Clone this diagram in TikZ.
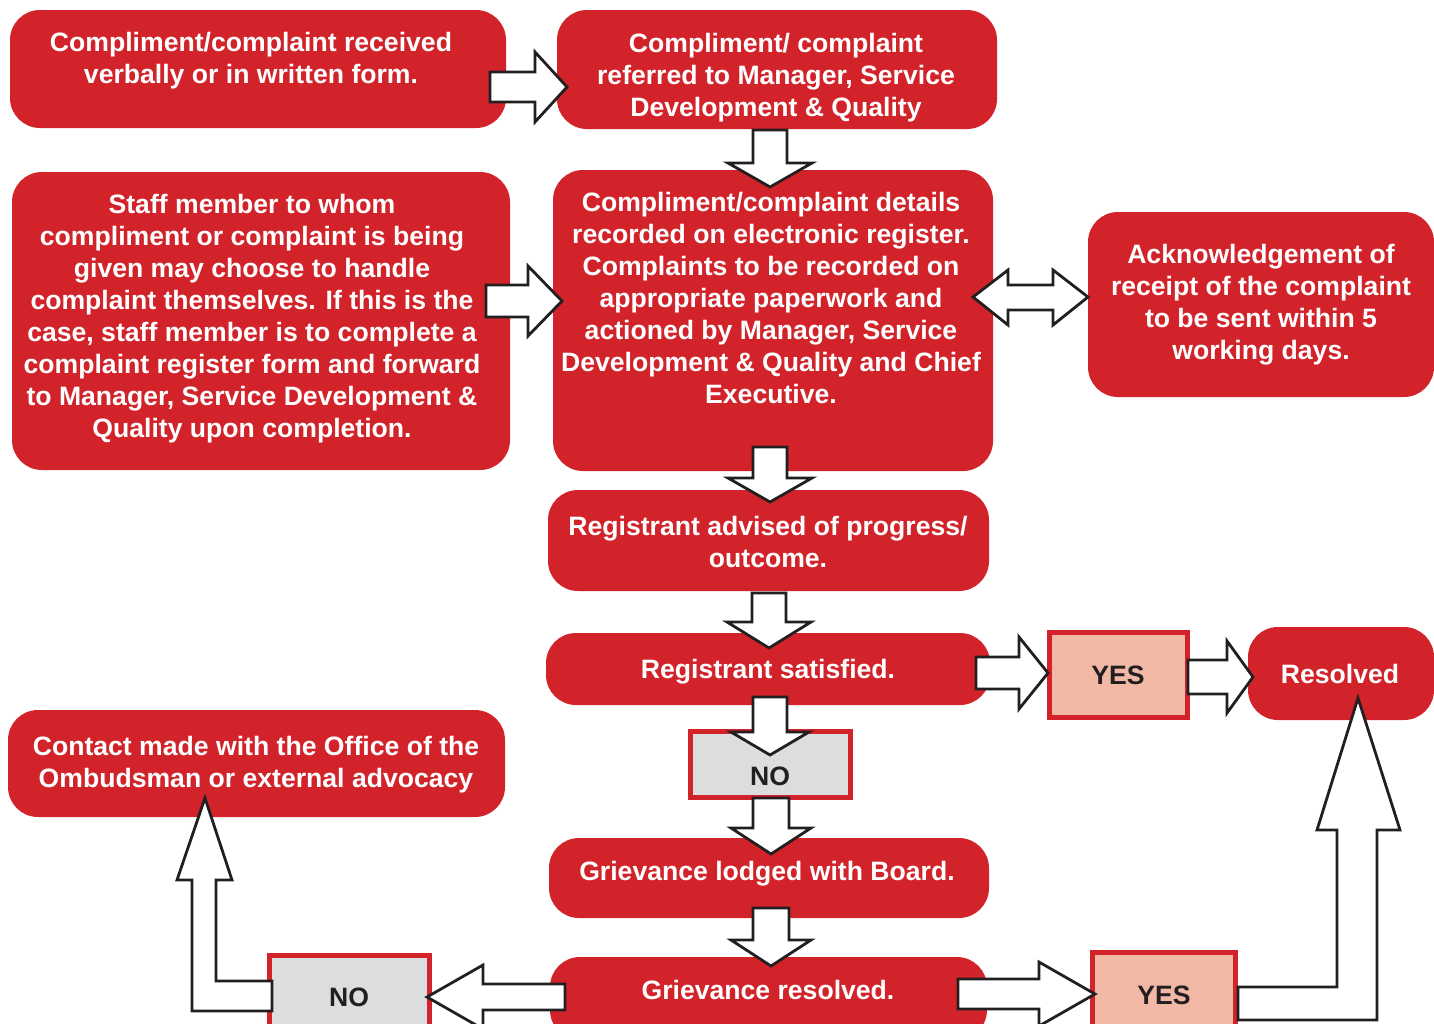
\documentclass[tikz,border=0pt]{standalone}
\usepackage{fontspec}
\setmainfont{Liberation Sans}
\definecolor{cred}{HTML}{D2232A}
\definecolor{cpink}{HTML}{F1B9A5}
\definecolor{cgray}{HTML}{DCDDDF}
\definecolor{cdark}{HTML}{231F20}
\newcommand\ArrH[6]{\draw[blk] (#1,#4-#5) -- (#2,#4-#5) -- (#2,#4-#6) -- (#3,#4) -- (#2,#4+#6) -- (#2,#4+#5) -- (#1,#4+#5) -- cycle;}
\newcommand\ArrV[6]{\draw[blk] (#1-#5,#2) -- (#1-#5,#3) -- (#1-#6,#3) -- (#1,#4) -- (#1+#6,#3) -- (#1+#5,#3) -- (#1+#5,#2) -- cycle;}
\tikzset{
  box/.style={fill=cred, rounded corners=30pt, inner sep=0pt},
  ansbox/.style={draw=cred, line width=5pt, inner sep=0pt},
  wtxt/.style={text=white, font=\bfseries\fontsize{26.6}{32}\selectfont, align=center, inner sep=0pt, anchor=north},
  dtxt/.style={text=cdark, font=\bfseries\fontsize{26.6}{32}\selectfont, align=center, inner sep=0pt, anchor=north},
  blk/.style={draw=cdark, fill=white, line width=2.8pt, line join=miter}
}
\begin{document}
\begin{tikzpicture}[x=1pt,y=-1pt]
\useasboundingbox (0,0) rectangle (1434,1023);
\clip (0,0) rectangle (1434,1023);
% boxes
\node[box, minimum width=496, minimum height=118] (b1) at (258,69) {};
\node[box, minimum width=440, minimum height=119] (b2) at (777,69.5) {};
\node[box, minimum width=498, minimum height=298] (b3) at (261,321) {};
\node[box, minimum width=440, minimum height=301] (b4) at (773,320.5) {};
\node[box, minimum width=346, minimum height=185] (b5) at (1261,304.5) {};
\node[box, minimum width=441, minimum height=101] (b6) at (768.5,540.5) {};
\node[box, minimum width=444, minimum height=72] (b7) at (768,669) {};
\node[box, minimum width=186, minimum height=93] (res) at (1341,673.5) {};
\node[box, minimum width=497, minimum height=107] (b8) at (256.5,763.5) {};
\node[box, minimum width=440, minimum height=80] (b9) at (769,878) {};
\node[box, minimum width=437, minimum height=83] (b10) at (768.5,998.5) {};
\node[ansbox, fill=cpink, minimum width=138, minimum height=85] (yes1) at (1118.5,675) {};
\node[ansbox, fill=cgray, minimum width=160, minimum height=66] (no1) at (770.5,764.5) {};
\node[ansbox, fill=cgray, minimum width=160, minimum height=82] (no2) at (349.5,996.5) {};
\node[ansbox, fill=cpink, minimum width=143, minimum height=85] (yes2) at (1164,995) {};
% texts
\node[wtxt] (t1) at (251,32.5) {Compliment/complaint received\\verbally or in written form.};
\node[wtxt] (t2) at (776,33.5) {Compliment/ complaint\\referred to Manager, Service\\Development \& Quality};
\node[wtxt] (t3) at (252,194.5) {Staff member to whom\\compliment or complaint is being\\given may choose to handle\\complaint themselves. If this is the\\case, staff member is to complete a\\complaint register form and forward\\to Manager, Service Development \&\\Quality upon completion.};
\node[wtxt] (t4) at (771,192.5) {Compliment/complaint details\\recorded on electronic register.\\Complaints to be recorded on\\appropriate paperwork and\\actioned by Manager, Service\\Development \& Quality and Chief\\Executive.};
\node[wtxt] (t5) at (1261,244.5) {Acknowledgement of\\receipt of the complaint\\to be sent within 5\\working days.};
\node[wtxt] (t6) at (768,516.5) {Registrant advised of progress/\\outcome.};
\node[wtxt] (t7) at (768,659.5) {Registrant satisfied.};
\node[wtxt] (tres) at (1340,664.5) {Resolved};
\node[wtxt] (t8) at (256,736.5) {Contact made with the Office of the\\Ombudsman or external advocacy};
\node[wtxt] (t9) at (767,861.5) {Grievance lodged with Board.};
\node[wtxt] (t10) at (768,980.5) {Grievance resolved.};
\node[dtxt] (tyes1) at (1118,665.5) {YES};
\node[dtxt] (tno1) at (770,766.5) {NO};
\node[dtxt] (tno2) at (349,987.5) {NO};
\node[dtxt] (tyes2) at (1164,985.5) {YES};
% block arrows
\ArrH{490}{535}{567}{87}{15}{35}
\ArrH{486}{528}{562}{301}{16}{35}
\ArrH{976}{1019}{1048}{673}{16}{36}
\ArrH{1188}{1227}{1253}{677}{17}{36}
\ArrH{958}{1039}{1095}{994}{15}{32}
\ArrH{565}{483}{427}{997}{13}{32}
\draw[blk] (973,297) -- (1008,270) -- (1008,285) -- (1053,285) -- (1053,270) -- (1088,297) -- (1053,325) -- (1053,310) -- (1008,310) -- (1008,325) -- cycle;
\ArrV{770}{130}{163}{187}{17}{42}
\ArrV{770}{447}{478}{502}{17}{42}
\ArrV{769}{593}{622}{648}{17}{42}
\ArrV{770}{697}{732}{755}{17}{39}
\ArrV{771}{798}{828}{854}{18}{40}
\ArrV{771}{908}{940}{966}{18}{40}
\draw[blk] (1238,987) -- (1337,987) -- (1337,830) -- (1317,830) -- (1358,698) -- (1400,830) -- (1377,830) -- (1377,1020) -- (1238,1020) -- cycle;
\draw[blk] (272,981) -- (216,981) -- (216,880) -- (232,880) -- (205,798) -- (177,880) -- (192,880) -- (192,1011) -- (272,1011) -- cycle;
\end{tikzpicture}
\end{document}
